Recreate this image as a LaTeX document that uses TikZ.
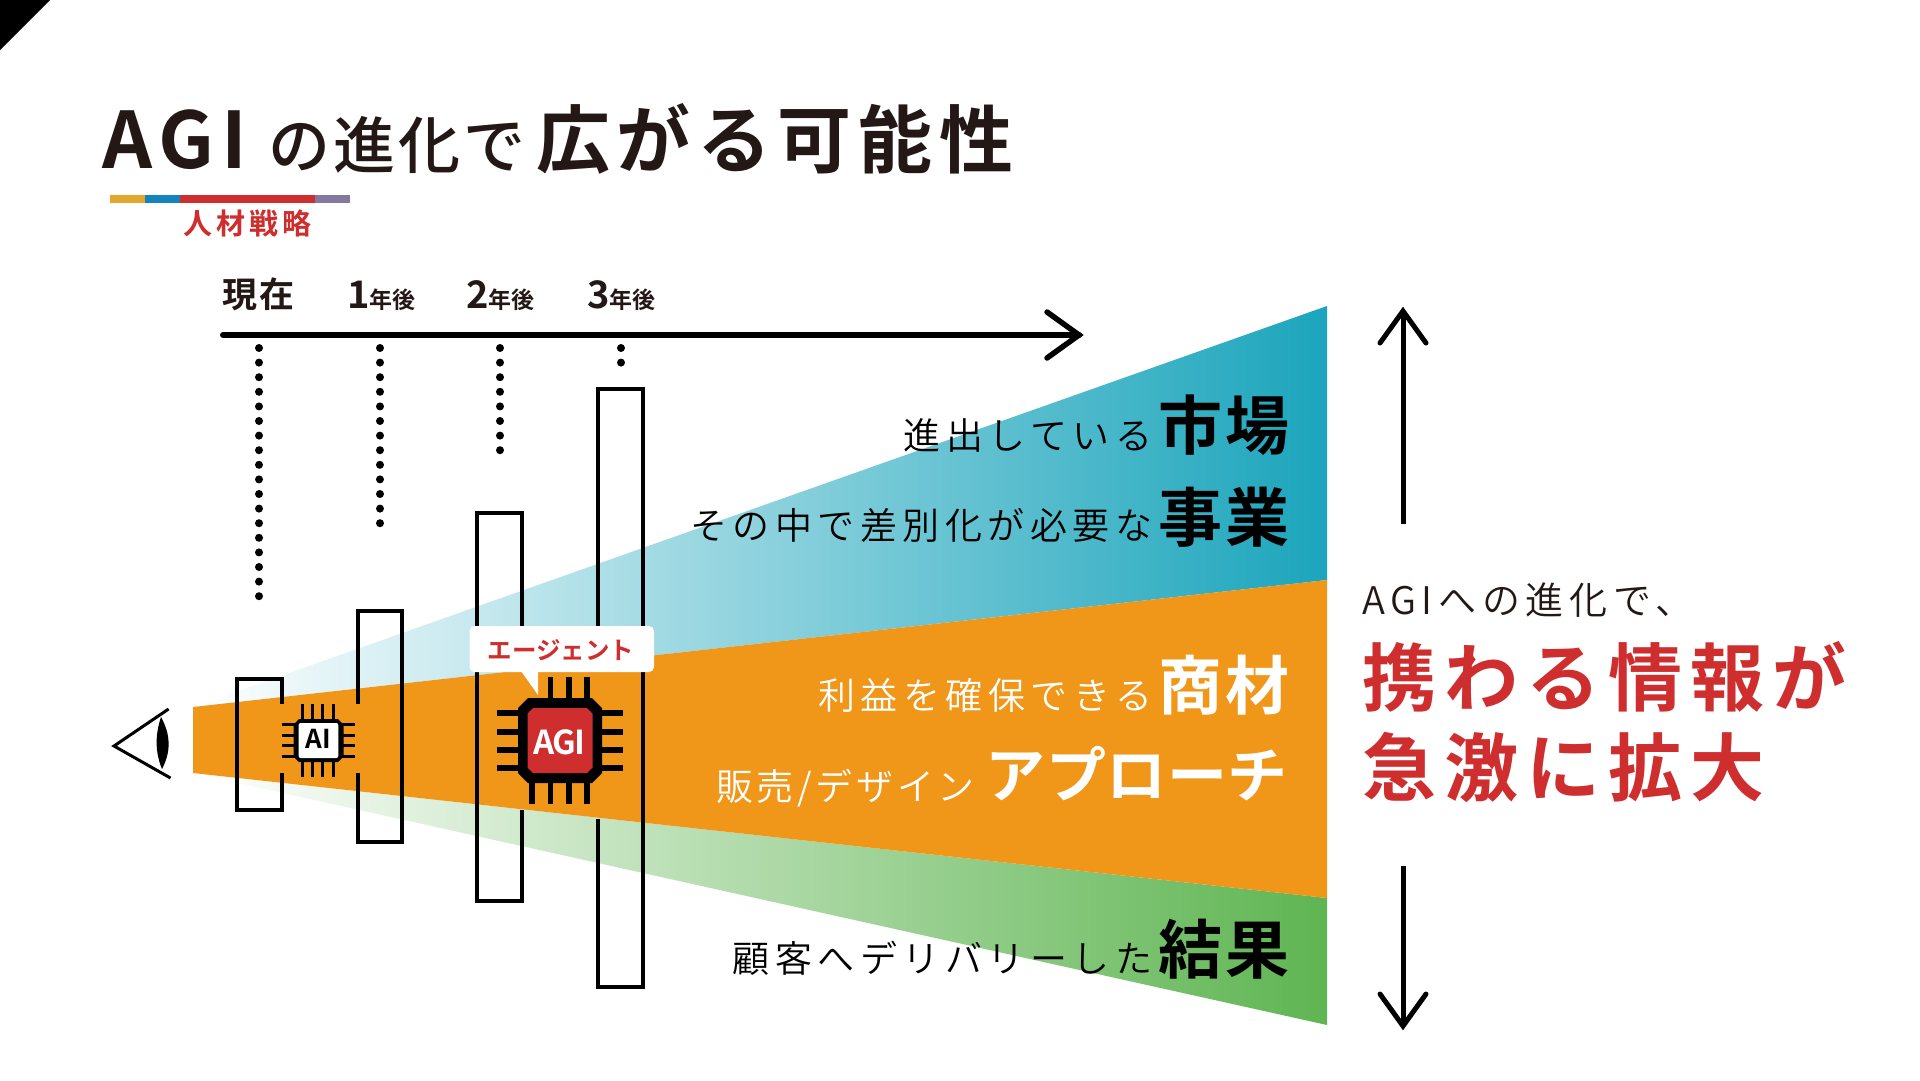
\documentclass[tikz,border=0pt]{standalone}
\usepackage{fontspec}
\newfontfamily\jpr{Noto Sans CJK JP DemiLight}
\newfontfamily\jpm{Noto Sans CJK JP Medium}
\newfontfamily\jpb{Noto Sans CJK JP}[BoldFont={Noto Sans CJK JP Bold}]
\newcommand{\ls}[1]{\addfontfeature{LetterSpace=#1}}
\definecolor{jpink}{HTML}{231815}
\definecolor{cteal}{HTML}{1BA5BC}
\definecolor{cgreen}{HTML}{5FB552}
\definecolor{corange}{HTML}{F09619}
\definecolor{cred}{HTML}{CF2E2E}
\definecolor{cgold}{HTML}{E3A82B}
\definecolor{cblue}{HTML}{1583BD}
\definecolor{cpurple}{HTML}{83799F}
\tikzset{
 boxline/.style={draw=black,line width=4pt,line join=miter},
 pinbig/.style={draw=black,line width=5.5pt},
 pinsmall/.style={draw=black,line width=3pt},
 tx/.style={inner sep=0pt,outer sep=0pt,anchor=base west},
 txr/.style={inner sep=0pt,outer sep=0pt,anchor=base east},
 thin text/.style={txr,font=\jpr\fontsize{37}{37}\selectfont\ls{14.8}},
 big text/.style={txr,font=\jpb\bfseries\fontsize{64}{64}\selectfont\ls{6}},
 big arrow/.style={draw=black,line width=5pt,line cap=round,line join=miter},
}
\begin{document}
\begin{tikzpicture}[x=1pt,y=-1pt]
\useasboundingbox (0,0) rectangle (1920,1080);
\fill[white] (0,0) rectangle (1920,1080);
\fill[black] (0,0) -- (50,0) -- (0,50) -- cycle;
% title
\node[tx,text=jpink,font=\jpb\bfseries\fontsize{78}{78}\selectfont\ls{9}] (t1) at (102,168) {AGI};
\node[tx,text=jpink,font=\jpm\fontsize{62}{62}\selectfont\ls{5}] (t2) at (268,168) {の進化で};
\node[tx,text=jpink,font=\jpb\bfseries\fontsize{74}{74}\selectfont\ls{9}] (t3) at (536,167) {広がる可能性};
\fill[cgold] (110,195) rectangle (145,203);
\fill[cblue] (145,195) rectangle (180,203);
\fill[cred] (180,195) rectangle (315,203);
\fill[cpurple] (315,195) rectangle (349.5,203);
\node[tx,text=cred,font=\jpb\bfseries\fontsize{29}{29}\selectfont\ls{14}] (sub) at (183,234) {人材戦略};
% time labels
\node[tx,text=jpink,font=\jpb\bfseries\fontsize{35}{35}\selectfont\ls{6}] (now) at (222,307) {現在};
\node[tx,text=jpink] (y1) at (347,308) {\jpb\bfseries\fontsize{38}{38}\selectfont 1\fontsize{23}{23}\selectfont\ls{2}年後};
\node[tx,text=jpink] (y2) at (466,308) {\jpb\bfseries\fontsize{38}{38}\selectfont 2\fontsize{23}{23}\selectfont\ls{2}年後};
\node[tx,text=jpink] (y3) at (587,308) {\jpb\bfseries\fontsize{38}{38}\selectfont 3\fontsize{23}{23}\selectfont\ls{2}年後};
% wedges
\path[left color=white,right color=cteal] (193,707) -- (1327,306) -- (1327,580) -- cycle;
\path[left color=white,right color=cgreen] (193,773) -- (1327,1025) -- (1327,898) -- cycle;
\fill[corange] (193,707) -- (1327,580) -- (1327,898) -- (193,773) -- cycle;
% time axis
\coordinate (ax0) at (223,335);
\coordinate (ax1) at (1079,335);
\draw[black,line width=6pt,line cap=round] (ax0) -- (ax1);
\draw[black,line width=5.5pt,line cap=round,line join=miter] (1047,312) -- (ax1) -- (1047,358);
% dots
\foreach \x/\n in {259/17,380/12,500/7,621/1}{
 \foreach \i in {0,...,\n}{ \fill[black] (\x,{348+14.6*\i}) circle (4pt); }
}
% eye
\draw[black,line width=3pt,line join=miter] (168.6,709) -- (114,746) -- (170.5,778);
\fill[black] (161,717) .. controls (155,735) and (155,752) .. (162,769) .. controls (171,752) and (171,735) .. (161,717) -- cycle;
% boxes
\draw[boxline] (282,704) -- (282,679) -- (237,679) -- (237,810) -- (282,810) -- (282,773);
\draw[boxline] (357.6,704) -- (357.6,611) -- (402,611) -- (402,842) -- (357.6,842) -- (357.6,773);
\draw[boxline] (522,672) -- (522,513) -- (477,513) -- (477,901) -- (522,901) -- (522,810);
\draw[boxline] (598,672) -- (598,389) -- (643,389) -- (643,987) -- (598,987) -- (598,819);
% small chip
\foreach \y in {724,735,745,756}{ \draw[pinsmall] (282,\y) -- (355,\y); }
\foreach \x in {302.6,312.5,322.8,333}{ \draw[pinsmall] (\x,704) -- (\x,777); }
\fill[black] (299,719) -- (338,719) -- (343.5,724.5) -- (343.5,756.5) -- (338,762) -- (299,762) -- (293.5,756.5) -- (293.5,724.5) -- cycle;
\fill[white,rounded corners=2pt] (298.7,723) rectangle (338.3,758);
\node[inner sep=0pt,text=black,font=\jpb\bfseries\fontsize{26}{26}\selectfont] (ai) at (318.5,739) {AI};
% big chip
\foreach \y in {713,732,750,768}{ \draw[pinbig] (497,\y) -- (622.5,\y); }
\foreach \x in {550.5,569,587}{ \draw[pinbig] (\x,677) -- (\x,804); }
\draw[pinbig] (532,720) -- (532,804);
\fill[black] (528,698) -- (592,698) -- (602,708) -- (602,773) -- (592,783) -- (528,783) -- (518,773) -- (518,708) -- cycle;
\fill[cred] (533,708) -- (587,708) -- (592.5,713.5) -- (592.5,767.5) -- (587,773) -- (533,773) -- (527.5,767.5) -- (527.5,713.5) -- cycle;
\node[inner sep=0pt,text=white,font=\jpb\bfseries\fontsize{33}{33}\selectfont\ls{-4}] (agi) at (559.5,742) {AGI};
% bubble
\fill[white,rounded corners=5pt] (469.5,626) rectangle (654,672);
\fill[white] (521,671) -- (538,671) -- (538,695) -- cycle;
\node[inner sep=0pt,text=cred,font=\jpb\bfseries\fontsize{24.5}{24.5}\selectfont] (agent) at (561,650) {エージェント};
% wedge text
\node[thin text,text=black] (a1) at (1152,449) {進出している};
\node[big text,text=black] (a2) at (1290,449) {市場};
\node[thin text,text=black] (b1) at (1152,539) {その中で差別化が必要な};
\node[big text,text=black] (b2) at (1290,541) {事業};
\node[thin text,text=white] (c1) at (1152,709) {利益を確保できる};
\node[big text,text=white] (c2) at (1290,709) {商材};
\node[txr,text=white,font=\jpr\fontsize{37}{37}\selectfont\ls{10}] (d1) at (975,800) {販売/デザイン};
\node[txr,text=white,font=\jpb\bfseries\fontsize{60}{60}\selectfont\ls{1}] (d2) at (1288,797) {アプローチ};
\node[thin text,text=black] (e1) at (1152,972) {顧客へデリバリーした};
\node[big text,text=black] (e2) at (1290,973) {結果};
% right arrows
\coordinate (u0) at (1403,524);
\coordinate (u1) at (1403,311);
\coordinate (d0) at (1403,866);
\coordinate (d1) at (1403,1026);
\draw[big arrow,line cap=butt] (u0) -- (u1);
\draw[big arrow] (1380,343) -- (u1) -- (1426,343);
\draw[big arrow,line cap=butt] (d0) -- (d1);
\draw[big arrow] (1380,994) -- (d1) -- (1426,994);
% right text
\node[tx,text=jpink,font=\jpr\fontsize{38}{38}\selectfont\ls{15}] (r1) at (1362,614) {AGIへの進化で、};
\node[tx,text=cred,font=\jpb\bfseries\fontsize{74}{74}\selectfont\ls{11}] (r2) at (1362,705) {携わる情報が};
\node[tx,text=cred,font=\jpb\bfseries\fontsize{74}{74}\selectfont\ls{11}] (r3) at (1362,795) {急激に拡大};
\end{tikzpicture}
\end{document}
